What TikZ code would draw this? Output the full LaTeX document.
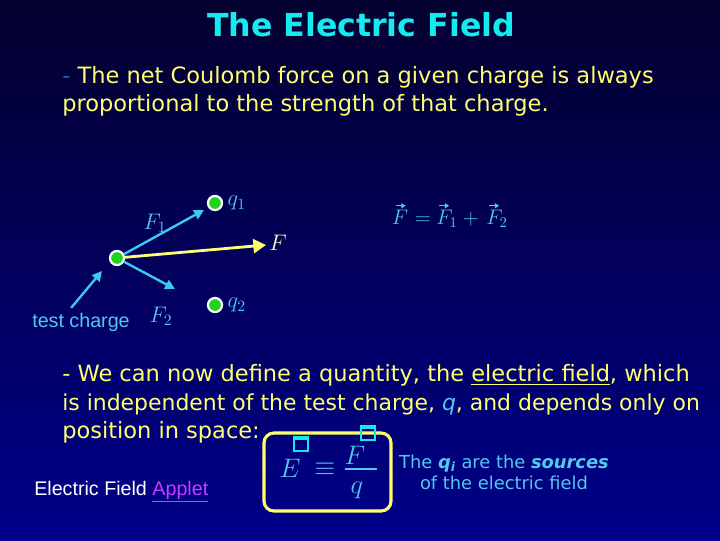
\RequirePackage{fix-cm}
\documentclass[tikz,border=0pt]{standalone}
\usepackage{amsmath,amssymb}
\usepackage{fontspec}
\usetikzlibrary{arrows.meta,positioning,calc}
\newfontfamily\efcomic{DejaVu Sans}
\newfontfamily\efarial{Liberation Sans}
\definecolor{eftop}{RGB}{4,0,46}
\definecolor{efbottom}{RGB}{0,0,138}
\definecolor{eftitle}{RGB}{20,235,240}
\definecolor{efyellow}{RGB}{255,255,110}
\definecolor{eflight}{RGB}{80,200,240}
\definecolor{efarrowc}{RGB}{60,200,240}
\definecolor{efgreen}{RGB}{30,210,30}
\definecolor{efviolet}{RGB}{200,60,255}
\definecolor{efpale}{RGB}{255,255,200}
\tikzset{
  efdot/.style={circle, draw=white, fill=efgreen, line width=1.6pt, minimum size=10pt, inner sep=0pt},
  efline/.style={anchor=base west, inner sep=0pt, text=efyellow, font=\efcomic\fontsize{16}{18}\selectfont},
  efmath/.style={inner sep=1pt, text=eflight, font=\fontsize{16}{18}\selectfont},
  efsum/.style={anchor=base, inner sep=0pt, text=eflight, font=\fontsize{15}{17}\selectfont},
  efbigmath/.style={inner sep=0pt, text=eflight, font=\fontsize{19}{21}\selectfont},
  efarrow/.style={-{Triangle[length=7pt,width=7pt]}, draw=efarrowc, line width=1.7pt},
  efvec/.style={-{Triangle[length=3pt,width=3.5pt]}, draw=eflight, line width=0.9pt},
  efbig/.style={-{Triangle[length=9pt,width=10pt]}, draw=efyellow, line width=2pt},
  efbox/.style={draw=efyellow, line width=2.2pt, rounded corners=7pt},
  efglyph/.style={draw=eftitle, line width=1.3pt, minimum size=10pt, inner sep=0pt, path picture={
      \fill[eftitle] (path picture bounding box.north west) rectangle ([yshift=-2.5pt]path picture bounding box.north east);}},
}
\begin{document}
\begin{tikzpicture}[x=0.025cm, y=-0.025cm]
  \shade[top color=eftop, bottom color=efbottom] (0,0) rectangle (720,540);
  \useasboundingbox (0,0) rectangle (720,540);

  \node[text=eftitle, font=\efcomic\bfseries\fontsize{22.5}{24}\selectfont] (title) at (361,25) {The Electric Field};

  \node[efline] (intro1) at (62,83) {{\color{efarrowc!50!efbottom}-} The net Coulomb force on a given charge is always};
  \node[efline] (intro2) at (62,111) {proportional to the strength of that charge.};

  % charges and forces
  \node[efdot] (q1) at (215,203) {};
  \node[efdot] (q2) at (215,305) {};
  \node[efdot] (test) at (117,258) {};
  \node[efmath, right=2pt of q1] (q1lab) {$q_1$};
  \node[efmath, right=2pt of q2] (q2lab) {$q_2$};

  \coordinate (f1tip) at (204,210);
  \coordinate (f2tip) at (175,289);
  \coordinate (ftip) at (266,245);
  \coordinate (tctip) at (102,271);

  \draw[efarrow] (test) -- (f1tip);
  \draw[efarrow] (test) -- (f2tip);
  \draw[efbig] (test) -- (ftip);

  \node[efmath] (f1lab) at (155,223) {$F_1$};
  \node[efmath] (f2lab) at (161,316) {$F_2$};
  \node[efmath, text=efpale] (flab) at (278,243) {$F$};

  \node[text=eflight, font=\efarial\fontsize{14}{16}\selectfont] (tclab) at (81,322) {test charge};
  \draw[efarrow] ([xshift=-7pt]tclab.north) -- (tctip);

  % vector sum
  \node[efsum] (sumf) at (400,224) {$F$};
  \node[efsum] (sumeq) at (423,224) {$=$};
  \node[efsum] (sumf1) at (447,224) {$F_1$};
  \node[efsum] (sumplus) at (471,224) {$+$};
  \node[efsum] (sumf2) at (497,224) {$F_2$};
  \foreach \v/\dx in {sumf/0, sumf1/-2.5, sumf2/-2.5}
    \draw[efvec] ([xshift=\dx pt-3pt, yshift=2.5pt]\v.north) -- ([xshift=\dx pt+4pt, yshift=2.5pt]\v.north);

  % definition of the field
  \node[efline] (def1) at (62,381) {- We can now define a quantity, the \underline{electric field}, which};
  \node[efline, font=\efcomic\fontsize{15.6}{18}\selectfont] (def2) at (62,410) {is independent of the test charge, {\color{eflight}\itshape q}, and depends only on};
  \node[efline] (def3) at (62,438) {position in space:};

  \draw[efbox] (264,433) rectangle (391,511);
  \node[efbigmath] (ebig) at (290,468) {$E$};
  \node[efbigmath] (equiv) at (325,469) {$\equiv$};
  \node[efbigmath] (fnum) at (355,455) {$F$};
  \node[efbigmath] (qden) at (357,490) {$q$};
  \draw[draw=eflight, line width=1.1pt] (345,469) -- (377,469);
  \node[efglyph] (eglyph) at (301,444) {};
  \node[efglyph] (fglyph) at (368,433) {};

  \node[text=eflight, align=center, font=\efcomic\fontsize{12.7}{15}\selectfont] (sources) at (504,472)
    {The \textbf{\itshape q\textsubscript{i}} are the \textbf{\itshape sources}\\of the electric field};

  \node[anchor=base west, inner sep=0pt, text=white, font=\efarial\fontsize{14}{16}\selectfont] (applet) at (34,495)
    {Electric Field {\color{efviolet}\underline{Applet}}};
\end{tikzpicture}
\end{document}
